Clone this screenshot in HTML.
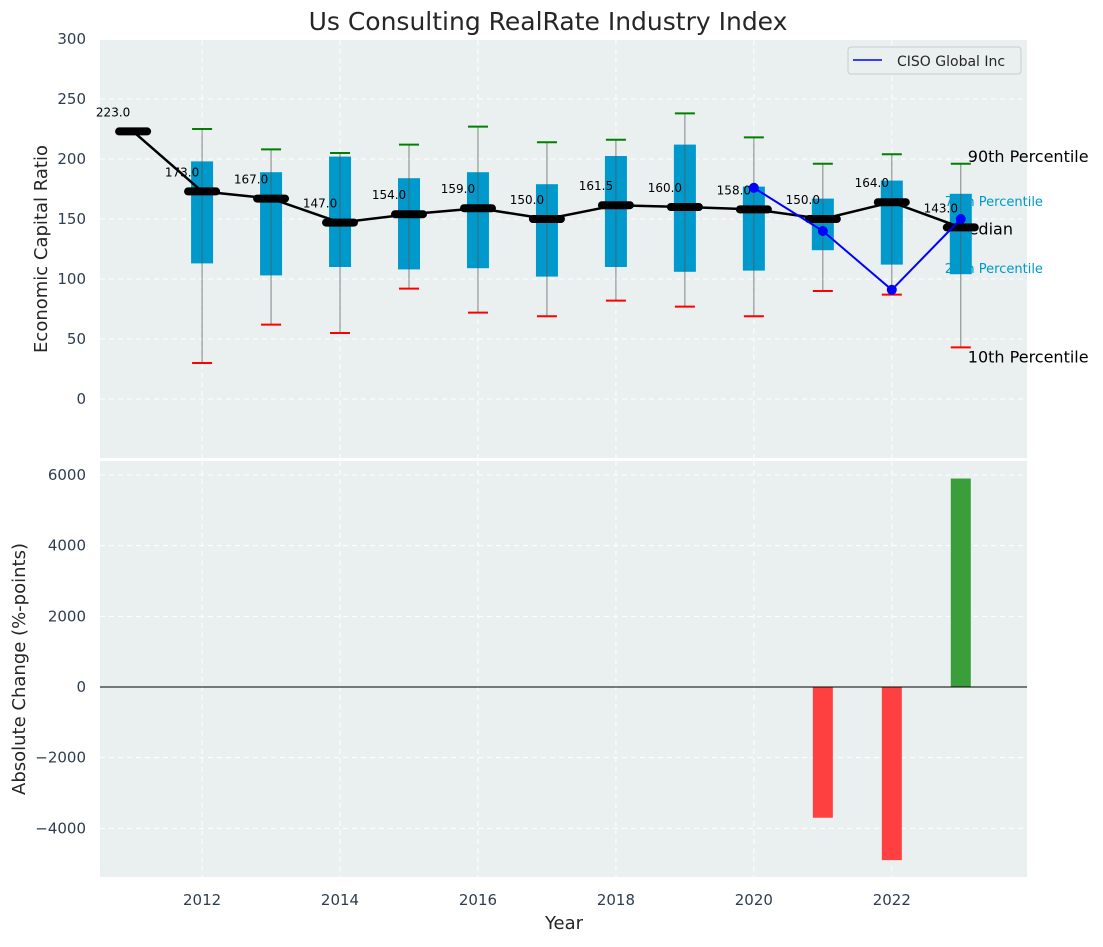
<!DOCTYPE html>
<html><head><meta charset="utf-8"><style>
body{margin:0;background:#fff;font-family:"Liberation Sans","DejaVu Sans",sans-serif}
svg text{font-family:"DejaVu Sans","Liberation Sans",sans-serif}
</style></head><body>
<svg id="c" width="1103" height="942" xmlns="http://www.w3.org/2000/svg"></svg>
<script>
const years=[2011,2012,2013,2014,2015,2016,2017,2018,2019,2020,2021,2022,2023];
const medians=[223,173,167,147,154,159,150,161.5,160,158,150,164,143];
const p90=[null,225,208,205,212,227,214,216,238,218,196,204,196];
const q3=[null,198,189,202,184,189,179,202.5,212,177,167,182,171];
const q1=[null,113,103,110,108,109,102,110,106,107,124,112,104];
const p10=[null,30,62,55,92,72,69,82,77,69,90,87,43];
const cisoYears=[2020,2021,2022,2023];
const cisoVals=[176,140,91,150];
const changeYears=[2021,2022,2023];
const changeVals=[-3700,-4900,5900];
const yTicksTop=[0,50,100,150,200,250,300];
const yTicksBot=[-4000,-2000,0,2000,4000,6000];
const xTicks=[2012,2014,2016,2018,2020,2022];

const NS="http://www.w3.org/2000/svg",svg=document.getElementById('c');
function el(t,a,p){const e=document.createElementNS(NS,t);for(const k in a)e.setAttribute(k,a[k]);(p||svg).appendChild(e);return e;}
const L=100,R=1027,T1=40,B1=458,T2=461,B2=877;
const x=v=>L+(v-2010.52)/(2023.96-2010.52)*(R-L);
const y1=v=>399-v*1.2;
const y2=v=>687-v*(212/6000);

let t=el('text',{x:548,y:30,'text-anchor':'middle','font-size':25,fill:'#262626'});t.textContent='Us Consulting RealRate Industry Index';


let p=el('rect',{x:L,y:T1,width:R-L,height:B1-T1,fill:'#eaeff0'});

p=el('rect',{x:L,y:T2,width:R-L,height:B2-T2,fill:'#eaeff0'});


xTicks.forEach(v=>{
 el('line',{x1:x(v),x2:x(v),y1:T1,y2:B1,stroke:'#fff','stroke-dasharray':'5,4'});
 el('line',{x1:x(v),x2:x(v),y1:T2,y2:B2,stroke:'#fff','stroke-dasharray':'5,4'});
 const tt=el('text',{x:x(v),y:905,'text-anchor':'middle','font-size':15,fill:'#2e3d4f'});tt.textContent=v;
 
});
yTicksTop.forEach(v=>{
 el('line',{x1:L,x2:R,y1:y1(v),y2:y1(v),stroke:'#fff','stroke-dasharray':'5,4'});
 const tt=el('text',{x:86,y:y1(v)+5,'text-anchor':'end','font-size':15,fill:'#2e3d4f'});tt.textContent=v;
 
});
yTicksBot.forEach(v=>{
 el('line',{x1:L,x2:R,y1:y2(v),y2:y2(v),stroke:'#fff','stroke-dasharray':'5,4'});
 const tt=el('text',{x:86,y:y2(v)+5,'text-anchor':'end','font-size':15,fill:'#2e3d4f'});tt.textContent=(v<0?'\u2212'+(-v):v);
 
});

t=el('text',{x:47,y:249,'text-anchor':'middle','font-size':18,fill:'#262626',transform:'rotate(-90 47 249)'});t.textContent='Economic Capital Ratio';

t=el('text',{x:25,y:669,'text-anchor':'middle','font-size':18,fill:'#262626',transform:'rotate(-90 25 669)'});t.textContent='Absolute Change (%-points)';

t=el('text',{x:564,y:929,'text-anchor':'middle','font-size':18,fill:'#262626'});t.textContent='Year';


const ax=x(2023);
[['90th Percentile',p90[12],16,'#000',ax+7,-2],
 ['75th Percentile',q3[12],13,'#0099cc',ax-16,12],
 ['Median',medians[12],16,'#000',ax-6,7],
 ['25th Percentile',q1[12],13,'#0099cc',ax-16,-1],
 ['10th Percentile',p10[12],16,'#000',ax+7,15]].forEach(a=>{
 const tt=el('text',{x:a[4],y:y1(a[1])+a[5],'font-size':a[2],fill:a[3]});tt.textContent=a[0];
 
});

years.forEach((yr,i)=>{
 if(p90[i]==null)return;
 const cx=x(yr);
 const b=el('rect',{x:cx-11,y:y1(q3[i]),width:22,height:y1(q1[i])-y1(q3[i]),fill:'#0099cc'});
 
 const w=el('line',{x1:cx,x2:cx,y1:y1(p90[i]),y2:y1(p10[i]),stroke:'#555','stroke-opacity':0.7,'stroke-width':1});
 
 const c1=el('line',{x1:cx-10,x2:cx+10,y1:y1(p90[i]),y2:y1(p90[i]),stroke:'green','stroke-width':2});
 
 const c2=el('line',{x1:cx-10,x2:cx+10,y1:y1(p10[i]),y2:y1(p10[i]),stroke:'red','stroke-width':2});
 
});

const ml=el('polyline',{points:years.map((yr,i)=>x(yr)+','+y1(medians[i])).join(' '),fill:'none',stroke:'#000','stroke-width':2.5});

years.forEach((yr,i)=>{
 const m=el('line',{x1:x(yr)-14,x2:x(yr)+14,y1:y1(medians[i]),y2:y1(medians[i]),stroke:'#000','stroke-width':8,'stroke-linecap':'round'});
 
 const lt=el('text',{x:x(yr)-20,y:y1(medians[i])-15,'text-anchor':'middle','font-size':12,fill:'#000'});lt.textContent=medians[i].toFixed(1);
 
});

const cl=el('polyline',{points:cisoYears.map((yr,i)=>x(yr)+','+y1(cisoVals[i])).join(' '),fill:'none',stroke:'#0000ff','stroke-width':2});

cisoYears.forEach((yr,i)=>{
 const d=el('circle',{cx:x(yr),cy:y1(cisoVals[i]),r:5,fill:'#0000ff'});
 
});

const lg=el('g',{});
el('rect',{x:848,y:47,width:173,height:27,rx:3,fill:'#eaeff0',stroke:'#ccc'},lg);
el('line',{x1:853,x2:882,y1:60,y2:60,stroke:'#0000ff','stroke-width':1.5},lg);
t=el('text',{x:897,y:66,'font-size':14,fill:'#262626'},lg);t.textContent='CISO Global Inc';


changeYears.forEach((yr,i)=>{
 const v=changeVals[i];
 const b=el('rect',{x:x(yr)-10,y:Math.min(y2(0),y2(v)),width:20,height:Math.abs(y2(v)-y2(0)),fill:v<0?'#ff4040':'#3a9e3a'});
 
});
const zl=el('line',{x1:L,x2:R,y1:y2(0),y2:y2(0),stroke:'#000','stroke-width':1});

</script>
</body></html>
